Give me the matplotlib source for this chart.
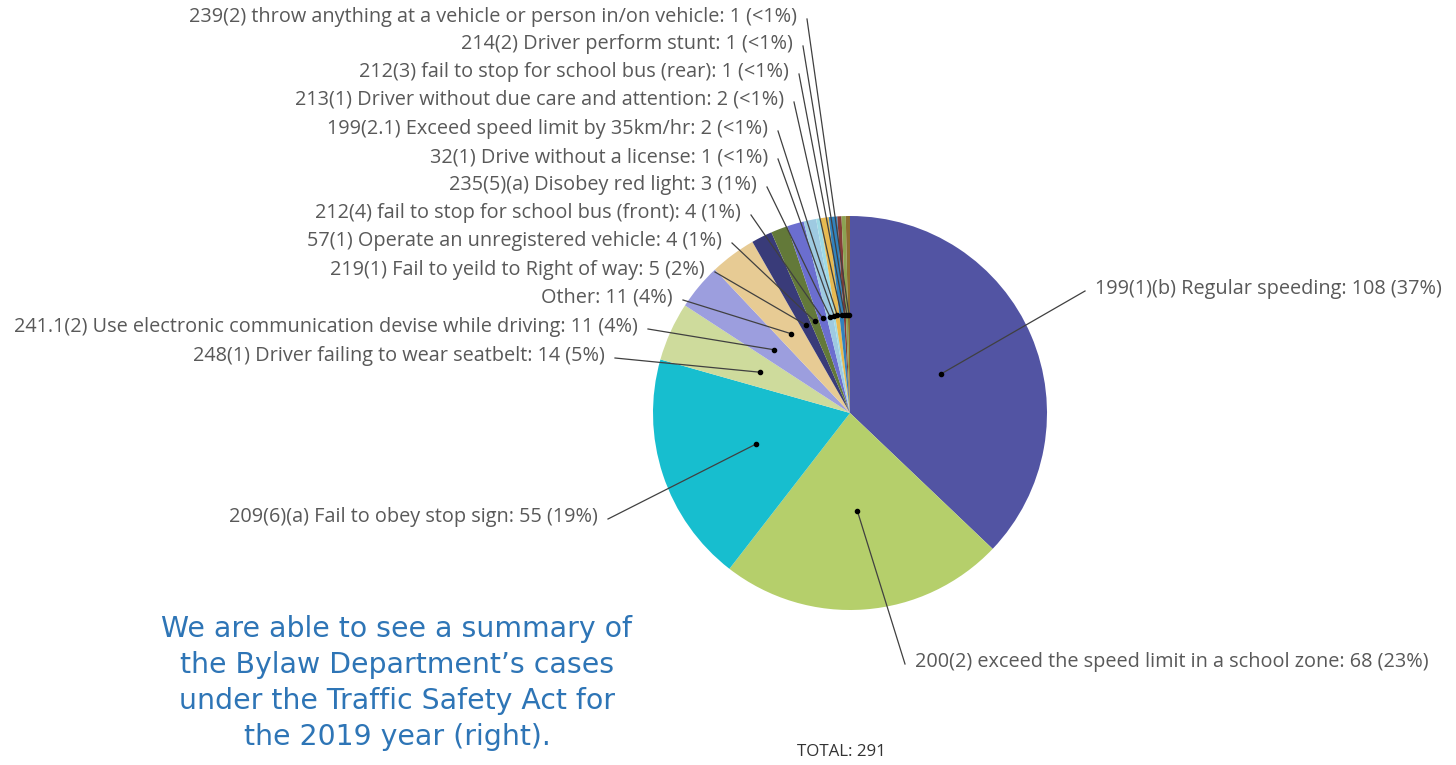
import numpy as np
import matplotlib
matplotlib.use("Agg")
import matplotlib.pyplot as plt

# Bylaw Department - Traffic Safety Act cases, 2019
categories = [
    "199(1)(b) Regular speeding",
    "200(2) exceed the speed limit in a school zone",
    "209(6)(a) Fail to obey stop sign",
    "248(1) Driver failing to wear seatbelt",
    "241.1(2) Use electronic communication devise while driving",
    "Other",
    "219(1) Fail to yeild to Right of way",
    "57(1) Operate an unregistered vehicle",
    "212(4) fail to stop for school bus (front)",
    "235(5)(a) Disobey red light",
    "32(1) Drive without a license",
    "199(2.1) Exceed speed limit by 35km/hr",
    "213(1) Driver without due care and attention",
    "212(3) fail to stop for school bus (rear)",
    "214(2) Driver perform stunt",
    "239(2) throw anything at a vehicle or person in/on vehicle",
]
counts = [108, 68, 55, 14, 11, 11, 5, 4, 4, 3, 1, 2, 2, 1, 1, 1]
pct_text = ["37%", "23%", "19%", "5%", "4%", "4%", "2%", "1%", "1%", "1%",
            "<1%", "<1%", "<1%", "<1%", "<1%", "<1%"]

colors = ["#5254a3", "#b5cf6b", "#17becf", "#cedb9c", "#9c9ede", "#e7cb94",
          "#393b79", "#637939", "#6b6ecf", "#9ecae1", "#9edae5", "#e7ba52",
          "#3182bd", "#843c39", "#8ca252", "#8c6d31"]

# label anchor in pixels (x, y from top) and side
label_pos = [
    (1095, 289, "left"), (915, 662, "left"), (598, 517, "right"),
    (605, 356, "right"), (638, 327, "right"), (673, 298, "right"),
    (705, 270, "right"), (722, 241, "right"), (741, 213, "right"),
    (757, 185, "right"), (768, 157, "right"), (768, 129, "right"),
    (784, 100, "right"), (789, 72, "right"), (793, 44, "right"),
    (797, 17, "right"),
]

W, H = 1456, 765
cx, cy, R = 850, 413, 197


def px(x, y):
    return (x - cx) / R, (cy - y) / R


fig = plt.figure(figsize=(W / 100, H / 100), dpi=100)
ax = fig.add_axes([0, 0, 1, 1])

wedges, _ = ax.pie(counts, colors=colors, startangle=90, counterclock=False,
                   radius=1, wedgeprops=dict(linewidth=0))

ax.set_xlim(-cx / R, (W - cx) / R)
ax.set_ylim(-(H - cy) / R, cy / R)
ax.set_aspect("equal")
ax.axis("off")

lab_font = dict(family=["Open Sans", "DejaVu Sans"], fontsize=14.3, color="#595959")
for w, cat, n, p, (lx, ly, side) in zip(wedges, categories, counts, pct_text, label_pos):
    mid = np.deg2rad((w.theta1 + w.theta2) / 2)
    dx, dy = 0.5 * np.cos(mid), 0.5 * np.sin(mid)
    tx, ty = px(lx, ly)
    ax.text(tx, ty, f"{cat}: {n} ({p})", ha=side, va="center", **lab_font)
    if side == "right":
        sx, sy = px(lx + 10, ly + 2)
    else:
        sx, sy = px(lx - 10, ly + 2)
    ax.plot([sx, dx], [sy, dy], color="#404040", lw=0.9)
    ax.plot(dx, dy, "o", color="black", ms=3)

tx, ty = px(397, 683)
ax.text(tx, ty, "We are able to see a summary of\nthe Bylaw Department\u2019s cases\n"
        "under the Traffic Safety Act for\nthe 2019 year (right).",
        ha="center", va="center", fontsize=20.4, color="#2e75b6",
        family="DejaVu Sans", linespacing=1.37)

tx, ty = px(841, 752)
ax.text(tx, ty, "TOTAL: 291", ha="center", va="center", fontsize=12.2,
        color="#333333", family="Open Sans")

fig.savefig("out.png", dpi=100)
